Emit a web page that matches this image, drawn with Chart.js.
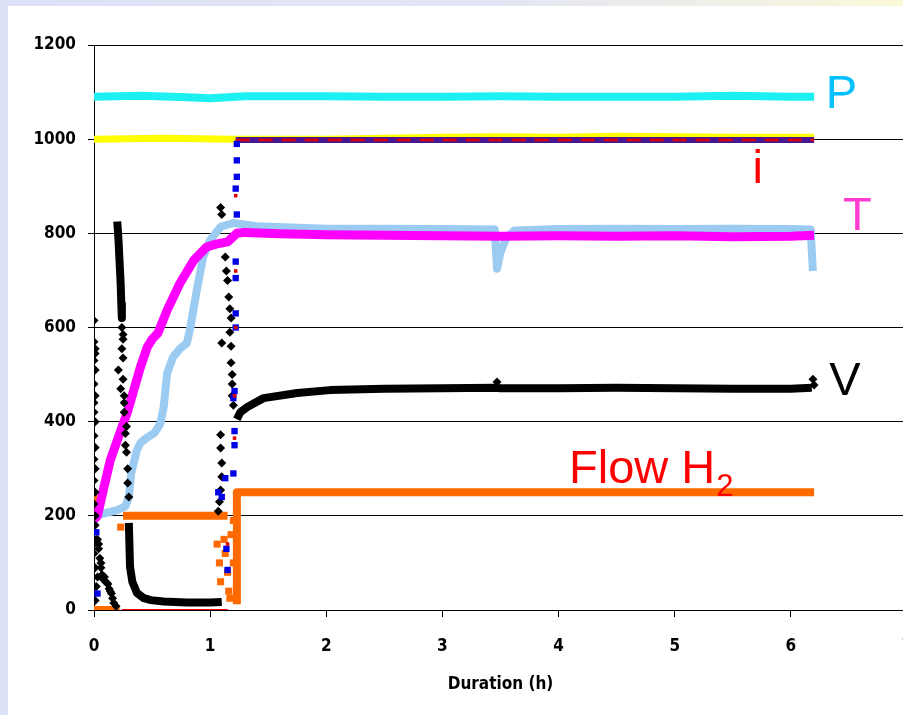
<!DOCTYPE html>
<html>
<head>
<meta charset="utf-8">
<script src="https://cdn.jsdelivr.net/npm/chart.js@4.4.1/dist/chart.umd.min.js"></script>
<style>
  html, body { margin: 0; padding: 0; width: 903px; height: 715px; overflow: hidden; }
  body { background: linear-gradient(to right, #dce1f7 0%, #e3e6f4 55%, #f2f1e4 85%, #fbf8d6 100%); position: relative; }
  #frame { position: absolute; left: 8px; top: 6px; right: 0; bottom: 0; background: #fff; overflow: hidden; }
  #chart { position: absolute; left: -8px; top: -6px; }
</style>
</head>
<body>
<div id="frame"><canvas id="chart" width="920" height="715"></canvas></div>
<script>
// axes
const xTicks = [0, 1, 2, 3, 4, 5, 6, 7];
const yTicks = [0, 200, 400, 600, 800, 1000, 1200];

// P (cyan)
const pX = [0, 0.4, 0.8, 1.0, 1.3, 2, 2.5, 3, 3.5, 4, 4.5, 5, 5.5, 6, 6.2];
const pY = [1090, 1092, 1089, 1087, 1091, 1091, 1090, 1090, 1091, 1090, 1090, 1090, 1092, 1090, 1090];

// setpoint (yellow)
const spX = [0, 0.6, 1.2, 2, 3, 3.5, 4, 4.5, 5, 5.5, 6, 6.2];
const spY = [1000, 1002, 1000, 1000, 1004, 1005, 1004, 1006, 1005, 1004, 1004, 1004];

// i (current)
const iLowX = [0.24, 1.15];
const iLowY = [0, 0];
const iHighX = [1.22, 6.2];
const iHighY = [998, 998];
const iJumpX = [0.02, 0.03, 1.07, 1.1, 1.13, 1.14, 1.15, 1.2, 1.21, 1.21, 1.2, 1.21, 1.22, 1.22, 1.22, 1.22, 1.23, 1.22, 1.23, 1.23, 1.23];
const iJumpY = [165, 35, 250, 240, 280, 130, 85, 290, 350, 380, 450, 465, 600, 630, 705, 740, 840, 895, 920, 955, 990];
const iRedX = [1.15, 1.21, 1.21, 1.22, 1.22, 1.22];
const iRedY = [140, 365, 455, 600, 720, 880];

// T (magenta)
const tX = [0, 0.03, 0.08, 0.14, 0.2, 0.29, 0.4, 0.46, 0.5, 0.55, 0.63, 0.74, 0.86, 0.97, 1.05, 1.15, 1.23, 1.3, 1.6, 2, 2.5, 3, 3.5, 4, 4.5, 5, 5.5, 6, 6.2];
const tY = [192, 200, 255, 318, 360, 422, 516, 559, 575, 588, 637, 694, 743, 771, 777, 782, 800, 802, 799, 797, 796, 795, 794, 795, 794, 795, 793, 794, 796];

// second temperature (light blue)
const t2X = [0, 0.1, 0.2, 0.27, 0.3, 0.32, 0.34, 0.37, 0.4, 0.45, 0.52, 0.57, 0.6, 0.63, 0.68, 0.74, 0.8, 0.83, 0.89, 0.94, 1.0, 1.09, 1.2, 1.4, 2, 2.5, 3, 3.45, 3.47, 3.5, 3.55, 3.62, 4, 4.5, 5, 5.5, 6, 6.17, 6.19];
const t2Y = [200, 206, 212, 220, 240, 290, 310, 340, 355, 365, 376, 395, 431, 503, 537, 555, 567, 601, 686, 750, 786, 814, 822, 815, 810, 810, 809, 808, 725, 760, 790, 806, 809, 810, 809, 810, 809, 808, 720];

// V (black) – continuous parts, null = gap
const vX = [0.2, 0.21, 0.22, 0.23, 0.235, 0.24, 0.27, 0.3, 0.31, 0.33, 0.37, 0.43, 0.49, 0.6, 0.8, 1.0, 1.1, 1.15, 1.23, 1.26, 1.32, 1.46, 1.75, 2.03, 2.5, 3, 3.45, 3.5, 4, 4.5, 5, 5.5, 6, 6.18];
const vY = [825, 790, 740, 690, 650, 620, null, 185, 92, 60, 36, 25, 21, 18, 16, 16, 17, null, 405, 420, 431, 450, 461, 467, 470, 471, 472, 471, 471, 472, 471, 470, 470, 472];
// V – scattered readings
const vDotX = [0, 0, 0.01, 0.01, 0, 0.01, 0, 0.01, 0, 0.01, 0, 0.01, 0, 0.01, 0, 0.01, 0.02, 0, 0.01, 0.03, 0.02, 0, 0.01, 0, 0.01, 0, 0.01,
  0.03, 0.04, 0.05, 0.06, 0.07, 0.08, 0.1, 0.12, 0.13, 0.15, 0.16, 0.17, 0.19, 0.04, 0.06, 0.09, 0.11, 0.14,
  0.24, 0.25, 0.24, 0.25, 0.21, 0.25, 0.23, 0.26, 0.26, 0.28, 0.27, 0.28, 0.29, 0.29, 0.3, 0.25, 0.26, 0.27,
  1.09, 1.1, 1.13, 1.14, 1.15, 1.16, 1.17, 1.18, 1.1, 1.17, 1.18, 1.18, 1.19, 1.19, 1.19, 1.2, 1.09, 1.09, 1.1, 1.1, 1.09, 1.08, 1.07,
  3.47, 6.19, 6.2];
const vDotY = [615, 570, 555, 545, 480, 455, 420, 400, 370, 345, 320, 300, 275, 250, 225, 180, 150, 120, 90, 70, 50, 530, 510, 440, 200, 140, 20,
  150, 130, 110, 90, 75, 65, 60, 55, 45, 35, 25, 15, 8, 140, 100, 70, 58, 40,
  600, 575, 555, 535, 510, 490, 470, 440, 420, 390, 375, 335, 300, 270, 240, 585, 455, 350,
  855, 840, 750, 720, 700, 665, 640, 620, 567, 590, 560, 525, 500, 480, 455, 435, 372, 344, 312, 283, 255, 230, 210,
  484, 490, 478];

// Flow H2 (orange) – null = gap
const flowX = [0, 0.22, 0.23, 0.25, 1.15, 1.2, 1.23, 1.23, 6.2];
const flowY = [0, 0, null, 200, 200, null, 12, 250, 250];
const flowDotX = [0, 0.02, 0.23, 1.06, 1.08, 1.09, 1.12, 1.13, 1.15, 1.16, 1.17, 1.18, 1.2, 1.2];
const flowDotY = [238, 200, 176, 140, 100, 60, 150, 120, 80, 40, 25, 160, 100, 190];

const pts = (xs, ys) => xs.map((x, i) => ({ x, y: ys[i] }));

// series names written on the plot
const seriesLabels = [
  { text: 'P', x: 6.30, y: 1066, color: '#00c0ff' },
  { text: 'i', x: 5.67, y: 907, color: '#ff0000' },
  { text: 'T', x: 6.45, y: 807, color: '#ff3ccf' },
  { text: 'V', x: 6.33, y: 457, color: '#000000' },
  { text: 'Flow H', sub: '2', x: 4.09, y: 270, color: '#ff0000' }
];

const labelPlugin = {
  id: 'seriesLabels',
  afterDatasetsDraw(chart) {
    const { ctx, scales: { x, y } } = chart;
    const big = '47px "Liberation Sans", Arial, sans-serif';
    ctx.save();
    ctx.textBaseline = 'alphabetic';
    seriesLabels.forEach(l => {
      const px = x.getPixelForValue(l.x);
      const py = y.getPixelForValue(l.y);
      ctx.font = big;
      ctx.fillStyle = l.color;
      ctx.fillText(l.text, px, py);
      if (l.sub) {
        const w = ctx.measureText(l.text).width;
        ctx.font = '31px "Liberation Sans", Arial, sans-serif';
        ctx.fillText(l.sub, px + w + 1, py + 13);
      }
    });
    ctx.restore();
  }
};

function line(data, color, width, order, extra) {
  return Object.assign({
    data, borderColor: color, borderWidth: width, showLine: true,
    pointRadius: 0, spanGaps: false, order, borderCapStyle: 'butt', borderJoinStyle: 'round'
  }, extra || {});
}

function dots(data, color, style, radius, order) {
  return {
    data, showLine: false, pointStyle: style, pointRadius: radius,
    backgroundColor: color, borderColor: color, pointBorderWidth: 0, order
  };
}

const axisFont = { family: '"DejaVu Sans Condensed", "DejaVu Sans", sans-serif', size: 17, weight: 'bold' };

new Chart(document.getElementById('chart'), {
  type: 'scatter',
  data: {
    datasets: [
      dots(pts(iRedX, iRedY), '#e00000', 'rect', 2.5, 0),
      dots(pts(iJumpX, iJumpY), '#0000e6', 'rect', 4.5, 1),
      dots(pts(vDotX, vDotY), '#000000', 'rectRot', 4.5, 2),
      line(pts(vX, vY), '#000000', 8, 3),
      line(pts(tX, tY), '#ff00ff', 9, 4),
      line(pts(t2X, t2Y), '#9ccbf2', 8, 5),
      dots(pts(flowDotX, flowDotY), '#ff6a00', 'rect', 5, 6),
      line(pts(flowX, flowY), '#ff6a00', 8, 7),
      line(pts(iLowX, iLowY), '#ff0000', 2, 8),
      line(pts(iHighX, iHighY), '#e00000', 2.5, 9, { borderDash: [14, 9] }),
      line(pts(iHighX, iHighY), '#4a1590', 6, 10),
      line(pts(spX, spY), '#ffff00', 7, 11),
      line(pts(pX, pY), '#1cf0f0', 8, 12)
    ]
  },
  options: {
    responsive: false,
    animation: false,
    devicePixelRatio: 1,
    layout: { padding: { top: 45, right: 13, left: 0, bottom: 0 } },
    plugins: { legend: { display: false }, tooltip: { enabled: false } },
    scales: {
      x: {
        type: 'linear', min: 0, max: 7,
        // fixed axis box so the plot lands where the original's did
        afterFit: s => { s.height = 105; s.paddingLeft = 0; s.paddingRight = 0; },
        afterBuildTicks: s => { s.ticks = xTicks.map(v => ({ value: v })); },
        grid: { drawOnChartArea: false, drawTicks: true, tickLength: 7, color: '#000' },
        border: { display: true, color: '#000', width: 1 },
        ticks: { color: '#000', font: axisFont, padding: 19, maxRotation: 0, callback: v => String(v) },
        title: { display: true, text: 'Duration (h)', color: '#000', font: axisFont, padding: { top: 0, bottom: 20 } }
      },
      y: {
        min: 0, max: 1200,
        afterFit: s => { s.width = 94; s.paddingTop = 0; s.paddingBottom = 0; },
        afterBuildTicks: s => { s.ticks = yTicks.map(v => ({ value: v })); },
        grid: { color: '#000', lineWidth: 1, tickLength: 6 },
        border: { display: true, color: '#000', width: 1 },
        ticks: { color: '#000', font: axisFont, padding: 12, callback: v => String(v) }
      }
    }
  },
  plugins: [labelPlugin]
});
</script>
</body>
</html>
